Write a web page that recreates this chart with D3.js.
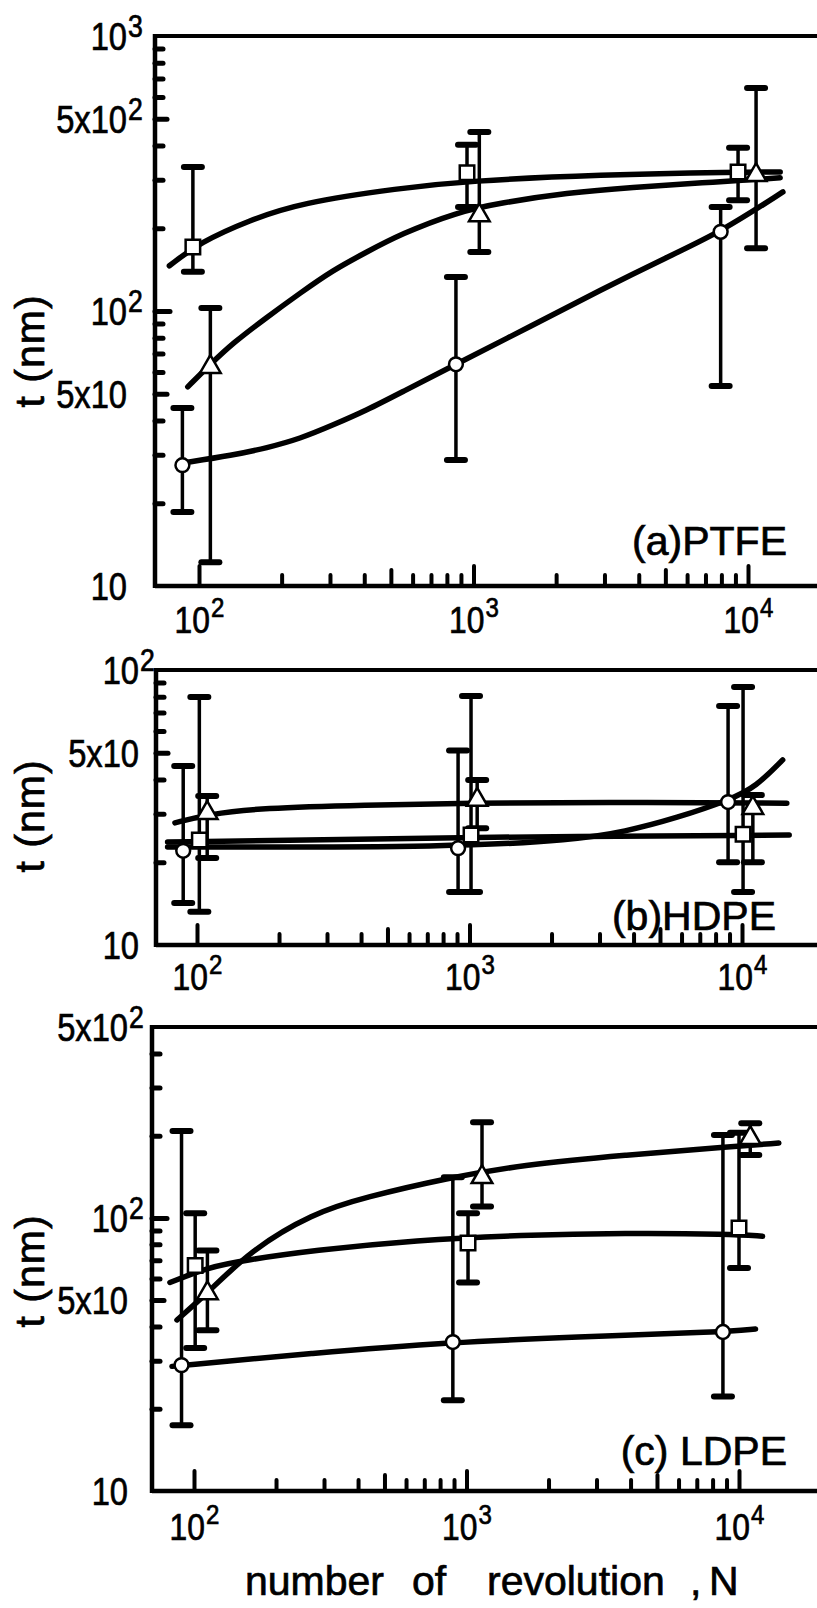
<!DOCTYPE html>
<html>
<head>
<meta charset="utf-8">
<script src="https://cdn.jsdelivr.net/npm/d3@7"></script>
<style>
  body { margin: 0; background: #fff; }
  svg { display: block; }
  text { font-family: "Liberation Sans", Arial, sans-serif; fill: #000; stroke: #000; stroke-width: 0.7; }
</style>
</head>
<body>
<svg id="chart" width="817" height="1608"></svg>
<script>
// points: [N, t, lower bar, upper bar]
const ptfeSquare   = [[95, 171, 139, 334], [947, 318, 239, 402], [9200, 320, 253, 392]];
const ptfeTriangle = [[110, 62.6, 12.2, 102.6], [1050, 223, 164, 448], [10700, 312, 169, 647]];
const ptfeCircle   = [[87, 27.5, 18.6, 44.4], [863, 64, 28.7, 133], [7950, 194, 53.4, 239]];

const hdpeCircle   = [[89, 22, 14.2, 44.8], [908, 22.5, 15.6, 51], [8890, 33.1, 20, 74]];
const hdpeSquare   = [[102, 24.1, 13.2, 79.8], [1013, 25.1, 15.6, 80.4], [10090, 25.3, 15.6, 86.7]];
const hdpeTriangle = [[109, 30.2, 20.7, 34.8], [1067, 33.7, 26.6, 39.8], [10960, 31.5, 20, 35.1]];

const ldpeCircle   = [[90, 28.9, 17.4, 208], [891, 35.1, 21.5, 141], [8730, 38.2, 22.2, 201]];
const ldpeSquare   = [[101, 67, 33.4, 104], [1013, 80.9, 58, 104], [10000, 91.8, 65.5, 205]];
const ldpeTriangle = [[112, 53, 38.8, 76], [1140, 141, 110, 224], [11000, 196, 170, 222]];

// fitted curves: [N, t]
const ptfeSquareFit   = [[78, 146], [101, 178], [153, 214], [233, 247], [540, 280], [947, 297], [2890, 313], [9200, 320], [13100, 320]];
const ptfeTriangleFit = [[91, 53], [110, 64], [133, 76.5], [177, 95], [233, 116], [308, 141], [409, 164], [540, 190], [871, 229], [1250, 247], [2190, 269], [3810, 282], [6680, 292], [13100, 305]];
const ptfeCircleFit   = [[87, 28], [133, 29.9], [177, 31.8], [233, 34.3], [308, 38.5], [409, 43.6], [540, 50.3], [863, 64], [1650, 89], [2890, 119], [5070, 157], [7980, 194], [13400, 271]];

const hdpeTriangleFit = [[83, 27.8], [110, 29.9], [172, 31.5], [414, 32.3], [995, 32.8], [3010, 33.1], [14600, 32.8]];
const hdpeSquareFit   = [[78, 23.7], [239, 24.0], [995, 24.7], [14900, 25.1]];
const hdpeCircleFit   = [[78, 22.7], [914, 22.7], [2400, 24.1], [3720, 25.8], [5770, 29], [9030, 33.7], [11250, 37.6], [14100, 47.1]];

const ldpeTriangleFit = [[86.6, 42.3], [112, 53], [161, 76], [273, 104], [424, 119], [855, 140], [1585, 156], [3820, 170], [9270, 182], [14000, 188]];
const ldpeSquareFit   = [[81.6, 58], [113, 66], [154, 70], [273, 76], [658, 83], [1585, 86.5], [3820, 88], [9270, 87.3], [12200, 85.7]];
const ldpeCircleFit   = [[83, 28.6], [273, 32], [891, 35.1], [2460, 36.6], [8730, 38.2], [11500, 39.2]];

// ticks and tick labels
const nTicks = [100, 200, 300, 400, 500, 600, 700, 800, 900, 1000, 2000, 3000, 4000, 5000, 6000, 7000, 8000, 9000, 10000];
const nLabels = [[100, '2'], [1000, '3'], [10000, '4']];
const ptfeYTicks = [20, 30, 40, 50, 60, 70, 80, 90, 100, 200, 300, 400, 500, 600, 700, 800, 900];
const hdpeYTicks = [20, 30, 40, 50, 60, 70, 80, 90];
const ldpeYTicks = [20, 30, 40, 50, 60, 70, 80, 90, 100, 200, 300, 400];
const ptfeYLabels = [[1000, '10', '3'], [500, '5x10', '2'], [100, '10', '2'], [50, '5x10', ''], [10, '10', '']];
const hdpeYLabels = [[100, '10', '2'], [50, '5x10', ''], [10, '10', '']];
const ldpeYLabels = [[500, '5x10', '2'], [100, '10', '2'], [50, '5x10', ''], [10, '10', '']];

const panels = [
  {name: '(a)PTFE', yDomain: [10, 1000], top: 36, bottom: 586, left: 155, x2: 199, x4: 748,
   yTicks: ptfeYTicks, yLabels: ptfeYLabels, labelX: 127, xLabelY: 633, titleY: 351, nameX: 787, nameY: 555,
   series: [['square', ptfeSquare], ['triangle', ptfeTriangle], ['circle', ptfeCircle]],
   fits: [ptfeSquareFit, ptfeTriangleFit, ptfeCircleFit]},
  {name: '(b)HDPE', yDomain: [10, 100], top: 670, bottom: 945, left: 156, x2: 197, x4: 742,
   yTicks: hdpeYTicks, yLabels: hdpeYLabels, labelX: 139, xLabelY: 990, titleY: 816, nameX: 776, nameY: 930,
   series: [['circle', hdpeCircle], ['square', hdpeSquare], ['triangle', hdpeTriangle]],
   fits: [hdpeTriangleFit, hdpeSquareFit, hdpeCircleFit]},
  {name: '(c) LDPE', yDomain: [10, 500], top: 1027, bottom: 1491, left: 152, x2: 194, x4: 739,
   yTicks: ldpeYTicks, yLabels: ldpeYLabels, labelX: 128, xLabelY: 1540, titleY: 1271, nameX: 787, nameY: 1465,
   series: [['circle', ldpeCircle], ['square', ldpeSquare], ['triangle', ldpeTriangle]],
   fits: [ldpeTriangleFit, ldpeSquareFit, ldpeCircleFit]}
];

const W = 817;
const SQUEEZE = 0.86;   // the scan's digits are narrower than Liberation Sans
const svg = d3.select('#chart');

function mant(v) {
  return Math.round(v / Math.pow(10, Math.floor(Math.log10(v) + 1e-9)));
}

// text placed with its anchor at (px, py), optionally squeezed
function label(sel, px, py, str, size, anchor, sx) {
  sel.append('text')
    .attr('transform', `translate(${px},${py}) scale(${sx || SQUEEZE},1)`)
    .attr('text-anchor', anchor || 'start')
    .attr('font-size', size)
    .text(str);
}

const symbols = {
  circle: d3.symbol().type(d3.symbolCircle).size(150),
  square: d3.symbol().type(d3.symbolSquare).size(210),
  triangle: d3.symbol().type(d3.symbolTriangle).size(185)
};

panels.forEach(p => {
  const x = d3.scaleLog().domain([100, 10000]).range([p.x2, p.x4]);
  const y = d3.scaleLog().domain(p.yDomain).range([p.bottom, p.top]);
  const g = svg.append('g');

  // frame (runs off the right edge as in the scan)
  g.append('line').attr('x1', p.left).attr('x2', W).attr('y1', p.top).attr('y2', p.top)
    .attr('stroke', '#000').attr('stroke-width', 4);
  g.append('line').attr('x1', p.left).attr('x2', p.left).attr('y1', p.top - 2).attr('y2', p.bottom + 2)
    .attr('stroke', '#000').attr('stroke-width', 4.5);
  g.append('line').attr('x1', p.left).attr('x2', W).attr('y1', p.bottom).attr('y2', p.bottom)
    .attr('stroke', '#000').attr('stroke-width', 4.5);

  // inward ticks
  const yg = g.append('g').attr('transform', `translate(${p.left},0)`)
    .call(d3.axisLeft(y).tickValues(p.yTicks).tickFormat('').tickSizeOuter(0));
  yg.select('.domain').remove();
  yg.selectAll('.tick line')
    .attr('x2', d => mant(d) === 1 ? 15 : mant(d) === 5 ? 12 : 8)
    .attr('stroke', '#000').attr('stroke-width', 5).attr('stroke-linecap', 'round');

  const xg = g.append('g').attr('transform', `translate(0,${p.bottom})`)
    .call(d3.axisBottom(x).tickValues(nTicks).tickFormat('').tickSizeOuter(0));
  xg.select('.domain').remove();
  xg.selectAll('.tick line')
    .attr('y2', d => mant(d) === 1 ? -20 : mant(d) === 5 ? -16 : -11)
    .attr('stroke', '#000').attr('stroke-width', 4).attr('stroke-linecap', 'round');

  // y tick labels
  p.yLabels.forEach(([v, base, sup]) => {
    label(g, p.labelX, y(v) + 14, base, 38, 'end');
    if (sup) label(g, p.labelX + 1, y(v) + 1, sup, 31);
  });

  // x tick labels
  nLabels.forEach(([v, sup]) => {
    label(g, x(v) + 11, p.xLabelY, '10', 37, 'end');
    label(g, x(v) + 12, p.xLabelY - 16, sup, 28);
  });

  // y title
  g.append('text')
    .attr('transform', `translate(30,${p.titleY}) rotate(-90)`)
    .attr('text-anchor', 'middle').attr('dominant-baseline', 'central')
    .attr('font-size', 41).attr('letter-spacing', 1).text('t (nm)');

  // panel name
  label(g, p.nameX, p.nameY, p.name, 41, 'end', 1);

  // fitted curves
  const line = d3.line().x(d => x(d[0])).y(d => y(d[1])).curve(d3.curveBasis);
  g.selectAll('.fit').data(p.fits).enter().append('path')
    .attr('class', 'fit').attr('d', line)
    .attr('fill', 'none').attr('stroke', '#000').attr('stroke-width', 5.5)
    .attr('stroke-linecap', 'round').attr('stroke-linejoin', 'round');

  // error bars
  p.series.forEach(([shape, pts]) => {
    const eb = g.append('g');
    eb.selectAll('.bar').data(pts).enter().append('line')
      .attr('x1', d => x(d[0])).attr('x2', d => x(d[0]))
      .attr('y1', d => y(d[3])).attr('y2', d => y(d[2]))
      .attr('stroke', '#000').attr('stroke-width', 3.5);
    ['hi', 'lo'].forEach(k => {
      eb.selectAll('.cap-' + k).data(pts).enter().append('line')
        .attr('x1', d => x(d[0]) - 9).attr('x2', d => x(d[0]) + 9)
        .attr('y1', d => y(k === 'hi' ? d[3] : d[2])).attr('y2', d => y(k === 'hi' ? d[3] : d[2]))
        .attr('stroke', '#000').attr('stroke-width', 6).attr('stroke-linecap', 'round');
    });
  });

  // markers on top
  p.series.forEach(([shape, pts]) => {
    g.selectAll('.m-' + shape).data(pts).enter().append('path')
      .attr('transform', d => `translate(${x(d[0])},${y(d[1])})`)
      .attr('d', symbols[shape])
      .attr('fill', '#fff').attr('stroke', '#000').attr('stroke-width', 2.5);
  });
});

// x title
const xt = svg.append('text').attr('y', 1595).attr('font-size', 41);
[['number', 245], ['of', 412], ['revolution', 487], [',', 690], ['N', 709]].forEach(([w, px]) => {
  xt.append('tspan').attr('x', px).text(w);
});
</script>
</body>
</html>
